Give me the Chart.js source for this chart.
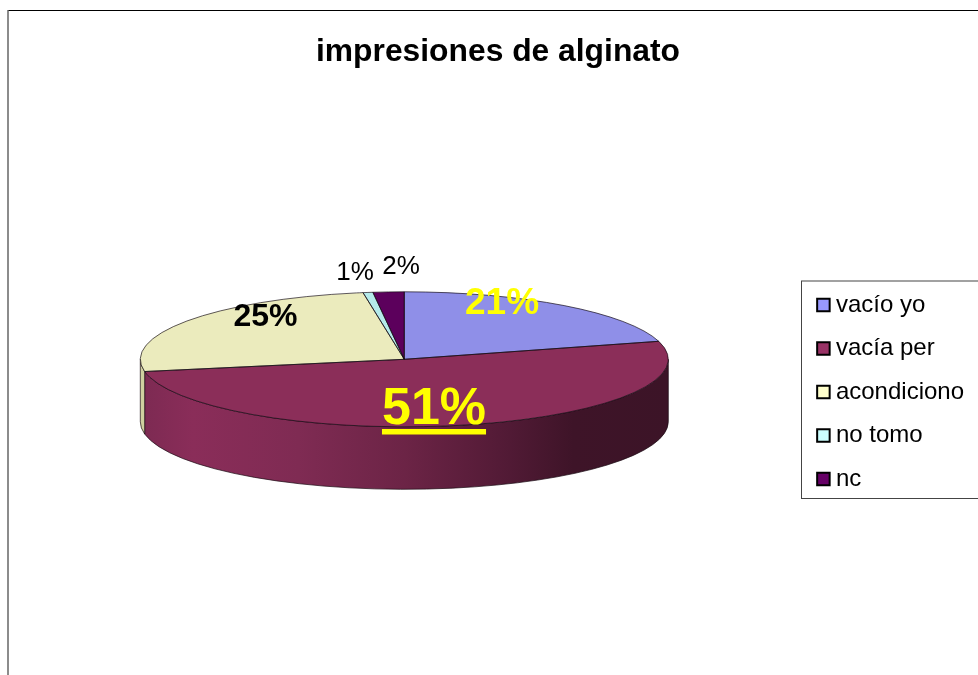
<!DOCTYPE html>
<html>
<head>
<meta charset="utf-8">
<style>html,body{margin:0;padding:0;background:#fff;overflow:hidden}canvas{display:block}</style>
<script src="https://cdn.jsdelivr.net/npm/chart.js@4"></script>
</head>
<body>
<div style="width:978px;height:675px;position:relative"><canvas id="c" width="978" height="675"></canvas></div>
<script>
const titleText = 'impresiones de alginato';
const categories = ['vacío yo', 'vacía per', 'acondiciono', 'no tomo', 'nc'];
const values = [20.7, 51.4, 25.4, 0.6, 1.9];
const topColors = ['#8f8fe8', '#8b2e59', '#ebebbd', '#b5eaea', '#5c005c'];
const sideColors = ['#6b6bb0', '#7d2a53', '#cfcf9f', '#8fbaba', '#3c0a3c'];
const legendColors = ['#9999ff', '#993366', '#ffffcc', '#ccffff', '#660066'];

const FONT = '"Liberation Sans", Arial, sans-serif';
const pieCenter = { x: 404.3, y: 359.3 };
const squash = 67.5 / 264;
const depth = 62.5;
// text styling of each percentage label, offset from the pie centre
const labelStyles = [
  { dx: 97.7, dy: -45.3, font: 'bold 37px ' + FONT, color: '#ffff00' },
  { dx: 29.7, dy: 64.7, font: 'bold 52px ' + FONT, color: '#ffff00', underline: true },
  { dx: -138.8, dy: -33.3, font: 'bold 32px ' + FONT, color: '#000000' },
  { dx: -49.3, dy: -79.3, font: '26px ' + FONT, color: '#000000' },
  { dx: -3.3, dy: -85.3, font: '26px ' + FONT, color: '#000000' }
];

function applyPieTransform(ctx, arc) {
  ctx.translate(pieCenter.x, pieCenter.y);
  ctx.scale(1, squash);
  ctx.translate(-arc.x, -arc.y);
}

const pie3d = {
  id: 'pie3d',
  beforeDraw(chart) {
    const { ctx, width, height } = chart;
    ctx.save();
    ctx.fillStyle = '#ffffff';
    ctx.fillRect(0, 0, width, height);
    ctx.strokeStyle = '#000000';
    ctx.lineWidth = 1;
    ctx.beginPath();
    ctx.moveTo(width, 10.5);
    ctx.lineTo(8, 10.5);
    ctx.stroke();
    ctx.strokeStyle = '#666666';
    ctx.lineWidth = 1.5;
    ctx.beginPath();
    ctx.moveTo(8, 10);
    ctx.lineTo(8, height);
    ctx.stroke();
    // legend frame
    ctx.strokeStyle = '#444444';
    ctx.lineWidth = 1;
    ctx.strokeRect(801.5, 281, width, 217.5);
    ctx.restore();
  },
  beforeDatasetsDraw(chart) {
    const { ctx } = chart;
    const arcs = chart.getDatasetMeta(0).data;
    const rx = arcs[0].outerRadius;
    const ry = rx * squash;
    const { x: cx, y: cy } = pieCenter;
    ctx.save();
    arcs.forEach((arc, i) => {
      const a0 = Math.max(arc.startAngle, 0);
      const a1 = Math.min(arc.endAngle, Math.PI);
      if (a1 <= a0) return;
      let fill = sideColors[i];
      if (i === 1) {
        const g = ctx.createLinearGradient(cx - rx, 0, cx + rx, 0);
        g.addColorStop(0, '#7c2a52');
        g.addColorStop(0.1, '#8a2d59');
        g.addColorStop(0.3, '#7f2b53');
        g.addColorStop(0.5, '#6c2446');
        g.addColorStop(0.7, '#511a35');
        g.addColorStop(0.82, '#3e1428');
        g.addColorStop(1, '#3c1427');
        fill = g;
      }
      ctx.beginPath();
      ctx.ellipse(cx, cy, rx, ry, 0, a0, a1);
      ctx.ellipse(cx, cy + depth, rx, ry, 0, a1, a0, true);
      ctx.closePath();
      ctx.fillStyle = fill;
      ctx.fill();
      ctx.strokeStyle = '#1a0a12';
      ctx.lineWidth = 0.7;
      ctx.stroke();
    });
    ctx.restore();
    ctx.save();
    applyPieTransform(ctx, arcs[0]);
  },
  afterDatasetsDraw(chart) {
    const { ctx } = chart;
    ctx.restore();
    const arcs = chart.getDatasetMeta(0).data;
    const { x: cx, y: cy } = pieCenter;
    arcs.forEach((arc) => {
      ctx.save();
      ctx.beginPath();
      ctx.save();
      applyPieTransform(ctx, arc);
      ctx.moveTo(arc.x, arc.y);
      ctx.arc(arc.x, arc.y, arc.outerRadius, arc.startAngle, arc.endAngle);
      ctx.closePath();
      ctx.restore();
      ctx.strokeStyle = 'rgba(20,10,20,0.85)';
      ctx.lineWidth = 0.8;
      ctx.stroke();
      ctx.restore();
    });
    ctx.save();
    ctx.textAlign = 'center';
    ctx.textBaseline = 'alphabetic';
    const total = values.reduce((a, b) => a + b, 0);
    values.forEach((v, i) => {
      const s = labelStyles[i];
      const t = Math.round(v / total * 100) + '%';
      ctx.font = s.font;
      ctx.fillStyle = s.color;
      const x = cx + s.dx;
      const y = cy + s.dy;
      ctx.fillText(t, x, y);
      if (s.underline) {
        const w = ctx.measureText(t).width;
        ctx.fillRect(x - w / 2, y + 5, w, 5.5);
      }
    });
    ctx.restore();
  }
};

new Chart(document.getElementById('c'), {
  type: 'pie',
  data: {
    labels: categories,
    datasets: [{
      data: values,
      backgroundColor: topColors,
      borderWidth: 0,
      clip: false
    }]
  },
  plugins: [pie3d],
  options: {
    responsive: false,
    animation: false,
    radius: 264,
    layout: { padding: { left: 22, right: 4, top: 33, bottom: 164.5 } },
    plugins: {
      tooltip: { enabled: false },
      title: {
        display: true,
        text: titleText,
        color: '#000000',
        font: { family: FONT, size: 31.8, weight: 'bold' },
        padding: { top: 0, bottom: 0 }
      },
      legend: {
        display: true,
        position: 'right',
        align: 'end',
        labels: {
          color: '#000000',
          font: { family: FONT, size: 24 },
          usePointStyle: true,
          boxWidth: 1,
          boxHeight: 12.5,
          padding: 19.5,
          generateLabels: () => categories.map((text, i) => ({
            text,
            fillStyle: legendColors[i],
            strokeStyle: '#000000',
            lineWidth: 2,
            pointStyle: 'rect',
            fontColor: '#000000',
            hidden: false,
            index: i
          }))
        }
      }
    }
  }
});
</script>
</body>
</html>
